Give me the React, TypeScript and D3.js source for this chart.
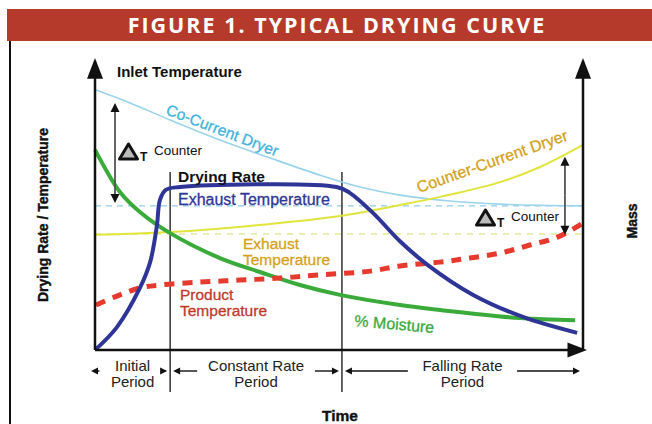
import * as d3 from 'd3';

const W = 652;
const H = 424;

// time (0-100) vs. relative level (0-100)
const coCurrent: [number, number][] = [
    [0, 89.7], [7.2, 85.2], [15.4, 79.3], [25.6, 72.4], [35.9, 66.2], [46.1, 60.3],
    [54.3, 56.2], [62.5, 53.4], [72.7, 51.4], [83.0, 50.3], [100, 49.7]
];
const counterCurrent: [number, number][] = [
    [0, 39.7], [15.4, 40.7], [31.8, 42.8], [50.2, 46.2], [62.5, 50.0], [70.7, 52.8],
    [83.0, 57.9], [91.2, 63.1], [100, 70.7]
];
const moisture: [number, number][] = [
    [0, 69.0], [2.5, 61.4], [5.1, 54.5], [9.2, 47.6], [15.4, 40.3], [25.6, 31.7],
    [33.8, 26.9], [42.0, 22.4], [50.2, 19.0], [62.5, 15.5], [70.7, 13.8], [87.1, 11.0], [98.4, 10.3]
];
const dryingRate: [number, number][] = [
    [0.2, 0.3], [4.5, 7.9], [9.2, 21.4], [11.3, 30.3], [12.7, 43.1], [13.3, 51.7],
    [14.5, 55.2], [17.4, 56.2], [49.5, 56.2], [52.2, 54.2], [57.0, 47.2], [62.5, 37.5],
    [68.2, 29.3], [77.5, 19.0], [87.7, 11.4], [98.8, 5.9]
];
const productTemp: [number, number][] = [
    [0.2, 15.5], [4.5, 18.6], [9.2, 21.4], [13.3, 22.4], [21.5, 23.4], [29.7, 24.1],
    [37.9, 24.8], [46.1, 25.9], [56.4, 27.2], [62.5, 29.0], [70.7, 30.3], [76.8, 31.7],
    [83.0, 33.4], [89.1, 36.2], [94.9, 39.0], [100, 43.8]
];
const inletLevel = 49.7;
const exhaustLevel = 40.0;
const periodBounds = [0, 15.4, 50.6, 100];
const periodLabels = [['Initial', 'Period'], ['Constant Rate', 'Period'], ['Falling Rate', 'Period']];
// [time, from, to]
const deltaArrows: [number, number, number][] = [
    [4.1, 85.2, 50.7],
    [96.3, 66.6, 39.7]
];

const x = d3.scaleLinear().domain([0, 100]).range([95, 583]);
const y = d3.scaleLinear().domain([0, 100]).range([350, 60]);

const line = d3
    .line<[number, number]>()
    .x((d) => x(d[0]))
    .y((d) => y(d[1]))
    .curve(d3.curveCatmullRom.alpha(0.5));

const sans = "'Liberation Sans', Arial, sans-serif";

function Arrow({ x1, y1, x2, y2, size = 6, len = 1.6, stroke = '#111', sw = 1.5 }: any) {
    // line with a filled head at (x2, y2)
    const a = Math.atan2(y2 - y1, x2 - x1);
    const hx = x2 - size * len * Math.cos(a);
    const hy = y2 - size * len * Math.sin(a);
    const p1 = [hx + size * Math.sin(a), hy - size * Math.cos(a)];
    const p2 = [hx - size * Math.sin(a), hy + size * Math.cos(a)];
    return (
        <g>
            <line x1={x1} y1={y1} x2={hx + Math.cos(a)} y2={hy + Math.sin(a)} stroke={stroke} strokeWidth={sw} />
            <path d={`M${x2},${y2}L${p1[0]},${p1[1]}L${p2[0]},${p2[1]}Z`} fill="#111" />
        </g>
    );
}

export default function App() {
    const x0 = x(0);
    const x1 = x(100);
    const y0 = y(0);
    const top = 58;

    return (
        <svg width={W} height={H} style={{ position: 'absolute', left: 0, top: 0, background: '#fff' }}>
            {/* title bar */}
            <rect x={7} y={9} width={W - 7} height={32} fill="#b63a2b" />
            <text
                x={337}
                y={33}
                textAnchor="middle"
                fill="#fff"
                fontFamily="'Open Sans', sans-serif"
                fontWeight={700}
                fontSize={21.5}
                letterSpacing={2}
            >
                FIGURE 1. TYPICAL DRYING CURVE
            </text>
            <line x1={10} y1={41} x2={10} y2={H} stroke="#111" strokeWidth={2} />

            {/* reference lines */}
            <line x1={x0} x2={x1} y1={y(inletLevel)} y2={y(inletLevel)} stroke="#8fcbe6" strokeWidth={1.2} strokeDasharray="6,5" />
            <line x1={x0} x2={x1} y1={y(exhaustLevel)} y2={y(exhaustLevel)} stroke="#e3e89a" strokeWidth={1.5} strokeDasharray="6,6" />

            {/* period dividers */}
            {periodBounds.slice(1, 3).map((t) => (
                <line key={t} x1={x(t)} x2={x(t)} y1={172} y2={392} stroke="#333" strokeWidth={1.5} />
            ))}

            {/* curves */}
            <path d={line(coCurrent)!} fill="none" stroke="#9ad3ec" strokeWidth={1.6} />
            <path d={line(counterCurrent)!} fill="none" stroke="#e0e43c" strokeWidth={2} />
            <path d={line(moisture)!} fill="none" stroke="#3aaa3a" strokeWidth={4} />
            <path d={line(productTemp)!} fill="none" stroke="#e63a2e" strokeWidth={5} strokeDasharray="10,8" />
            <path d={line(dryingRate)!} fill="none" stroke="#2f3596" strokeWidth={4} />

            {/* axes */}
            <Arrow x1={x0} y1={y0} x2={x0} y2={top} size={8} len={2.6} sw={2.5} />
            <Arrow x1={x1} y1={y0} x2={x1} y2={top} size={8} len={2.6} sw={2.5} />
            <Arrow x1={x0} y1={y0} x2={x1 + 4} y2={y0} size={7.5} len={2.6} sw={2.5} />

            {/* delta T arrows */}
            {deltaArrows.map(([t, a, b]) => {
                const mid = (y(a) + y(b)) / 2;
                return (
                    <g key={t}>
                        <Arrow x1={x(t)} y1={mid} x2={x(t)} y2={y(a)} size={4.5} len={2} stroke="#555" sw={1.8} />
                        <Arrow x1={x(t)} y1={mid} x2={x(t)} y2={y(b)} size={4.5} len={2} stroke="#555" sw={1.8} />
                    </g>
                );
            })}

            {/* delta T labels */}
            {[
                [118, 160],
                [475, 226]
            ].map(([lx, ly], i) => (
                <g key={i} fontFamily={sans} fill="#111">
                    <path d={`M${lx + 1.5},${ly - 1}L${lx + 10.5},${ly - 16}L${lx + 19.5},${ly - 1}Z`} fill="#bbb" stroke="#111" strokeWidth={3} strokeLinejoin="round" />
                    <text x={lx + 22} y={ly + 1} fontSize={12} fontWeight={700}>T</text>
                    <text x={lx + 36} y={ly - 5} fontSize={13.5}>Counter</text>
                </g>
            ))}

            {/* series labels */}
            <text x={117} y={77} fontFamily={sans} fontWeight={700} fontSize={15} fill="#111">Inlet Temperature</text>
            <text x={178} y={182} fontFamily={sans} fontWeight={700} fontSize={15.5} fill="#111">Drying Rate</text>
            <text x={178} y={205} fontFamily={sans} fontSize={16} fill="#2f3596" stroke="#2f3596" strokeWidth={0.3}>Exhaust Temperature</text>
            <text
                transform="translate(165,114) rotate(21)"
                fontFamily={sans}
                fontSize={15.5}
                fill="#3fb2dc"
                stroke="#3fb2dc"
                strokeWidth={0.3}
            >
                Co-Current Dryer
            </text>
            <text
                transform="translate(419,193) rotate(-19.5)"
                fontFamily={sans}
                fontSize={16}
                fill="#d4a21a"
                stroke="#d4a21a"
                strokeWidth={0.3}
            >
                Counter-Current Dryer
            </text>
            <g fontFamily={sans} fontSize={15.5} fill="#d4a21a" stroke="#d4a21a" strokeWidth={0.3}>
                <text x={243} y={249}>Exhaust</text>
                <text x={243} y={265}>Temperature</text>
            </g>
            <g fontFamily={sans} fontSize={15.5} fill="#c0392b" stroke="#c0392b" strokeWidth={0.3}>
                <text x={180} y={300}>Product</text>
                <text x={180} y={316}>Temperature</text>
            </g>
            <text transform="translate(354,326) rotate(5)" fontFamily={sans} fontSize={16} fill="#3aa83a" stroke="#3aa83a" strokeWidth={0.3}>
                % Moisture
            </text>

            {/* period annotations */}
            {periodLabels.map((lab, i) => {
                const a = x(periodBounds[i]);
                const b = x(periodBounds[i + 1]);
                const c = (a + b) / 2;
                const half = lab[0].length * 4.3 + 3;
                return (
                    <g key={i} fontFamily={sans} fontSize={15} fill="#222">
                        <Arrow x1={c - half} y1={371} x2={a + (i === 0 ? -4 : 3)} y2={371} size={3.5} len={2} sw={1.4} />
                        <Arrow x1={c + half} y1={371} x2={b - 3} y2={371} size={3.5} len={2} sw={1.4} />
                        <text x={c} y={371} textAnchor="middle">{lab[0]}</text>
                        <text x={c} y={387} textAnchor="middle">{lab[1]}</text>
                    </g>
                );
            })}

            {/* axis titles */}
            <text x={340} y={421} textAnchor="middle" fontFamily={sans} fontWeight={700} fontSize={15.5} fill="#111" stroke="#111" strokeWidth={0.4}>Time</text>
            <text
                transform="translate(48,215) rotate(-90)"
                textAnchor="middle"
                fontFamily={sans}
                fontWeight={700}
                fontSize={14}
                fill="#111"
                stroke="#111"
                strokeWidth={0.4}
            >
                Drying Rate / Temperature
            </text>
            <text
                transform="translate(637,221) rotate(-90)"
                textAnchor="middle"
                fontFamily={sans}
                fontWeight={700}
                fontSize={14}
                fill="#111"
                stroke="#111"
                strokeWidth={0.4}
            >
                Mass
            </text>
        </svg>
    );
}
